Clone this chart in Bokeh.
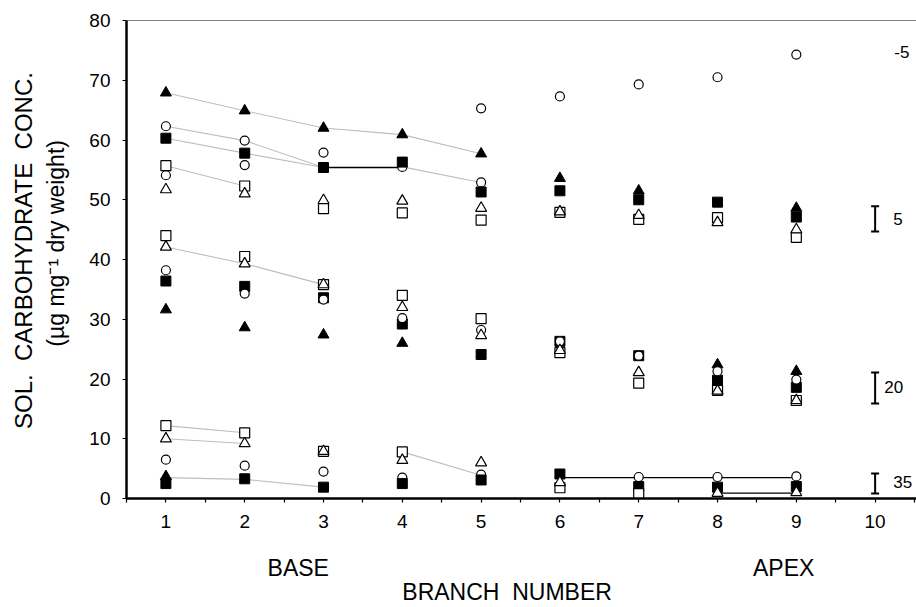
import numpy as np
from bokeh.plotting import figure
from bokeh.models import Range1d, FixedTicker, Span, Label, LinearAxis
from bokeh.embed import file_html
from bokeh.resources import INLINE

# ---------------- data ----------------
branches = [1, 2, 3, 4, 5, 6, 7, 8, 9]
x_ticks = [1, 2, 3, 4, 5, 6, 7, 8, 9, 10]
x_minor = [0.5, 1.5, 2.5, 3.5, 4.5, 5.5, 6.5, 7.5, 8.5, 9.5, 10.5]
y_ticks = [0, 10, 20, 30, 40, 50, 60, 70, 80]

# upper cluster
up_tri_filled = [67.9, 64.9, 62.0, 60.9, 57.7, 53.6, 51.5, None, 48.6]
up_sq_filled = [60.3, 57.8, 55.4, 56.3, 51.3, 51.5, 50.0, 49.6, 47.1]
up_circle_hi = [62.3, 59.9, 57.9, None, 65.3, 67.3, 69.3, 70.5, 74.3]
up_circle_lo = [54.1, 55.8, None, 55.5, 52.9, None, None, None, None]
up_sq_open = [55.7, 52.3, 48.5, 47.8, 46.6, 47.9, 46.7, 47.0, 43.7]
up_tri_open = [51.7, 51.0, 49.9, 49.8, 48.6, 48.0, 47.4, 46.2, 45.0]

# middle cluster
mid_sq_open = [44.0, 40.5, 35.8, 34.0, 30.1, 24.4, 19.3, 18.1, 16.4]
mid_tri_open = [42.1, 39.3, 35.8, 32.0, 27.3, 24.8, 21.1, 18.0, 16.4]
mid_circle = [38.2, 34.3, 33.3, 30.2, 28.2, 26.3, 23.9, 21.3, 19.9]
mid_sq_filled = [36.4, 35.5, 33.6, 29.2, 24.1, 26.3, 23.9, 19.8, 18.6]
mid_tri_filled = [31.6, 28.6, 27.4, 26.0, None, None, None, 22.4, 21.3]

# lower cluster
low_sq_open = [12.2, 11.0, 7.9, 7.8, None, 1.8, 0.8, None, None]
low_tri_open = [10.0, 9.2, 7.9, 6.4, 6.0, 2.7, None, 0.9, 1.0]
low_circle = [6.5, 5.5, 4.5, 3.5, 4.0, None, 3.6, 3.6, 3.7]
low_sq_filled = [2.5, 3.3, 1.9, 2.5, 3.1, 4.1, 2.0, 1.9, 2.0]
low_tri_filled = [3.7, None, None, None, None, None, None, None, None]

# connecting lines (branch list, value list)
grey_lines = [
    ([1, 2, 3, 4, 5], [67.9, 64.9, 62.0, 60.9, 57.7]),
    ([1, 2, 3], [62.3, 59.9, 55.4]),
    ([4, 5], [55.5, 52.9]),
    ([1, 2, 3], [60.3, 57.8, 55.4]),
    ([1, 2], [55.7, 52.3]),
    ([1, 2, 3], [42.1, 39.3, 35.8]),
    ([1, 2], [12.2, 11.0]),
    ([1, 2], [10.0, 9.2]),
    ([1, 2, 3], [3.5, 3.2, 1.9]),
    ([4, 5], [7.8, 3.9]),
]
black_lines = [
    ([3, 4], [55.4, 55.4]),
    ([6, 7, 8, 9], [3.5, 3.5, 3.5, 3.5]),
    ([8, 9], [0.9, 0.9]),
]

# temperature groups with LSD bars
temp_labels = ["-5", "5", "20", "35"]
lsd_low = [None, 44.7, 15.9, 0.85]
lsd_high = [None, 48.9, 21.1, 4.2]
temp_label_y = [74.8, 46.8, 18.6, 2.8]
bar_branch = 10

# axis captions
y_caption_1 = "SOL.\u00a0 CARBOHYDRATE\u00a0 CONC."
y_caption_2 = "(\u00b5g mg\u207b\u00b9 dry weight)"
x_end_labels = ["BASE", "APEX"]
x_caption = "BRANCH\u00a0 NUMBER"


def arr(v):
    return np.array([np.nan if a is None else a for a in v], dtype=float)


FONT = "Liberation Sans"

p = figure(width=916, height=607, x_range=Range1d(0.5, 10.525), y_range=Range1d(0, 80),
           output_backend="svg", toolbar_location=None, title=None,
           min_border_left=126, min_border_right=0, min_border_top=20, min_border_bottom=109)
p.background_fill_color = "white"
p.border_fill_color = "white"
p.outline_line_color = None
p.xgrid.visible = False
p.ygrid.visible = False

p.xaxis.ticker = FixedTicker(ticks=x_ticks, minor_ticks=x_minor)
p.yaxis.ticker = FixedTicker(ticks=y_ticks)
for ax in (p.xaxis[0], p.yaxis[0]):
    ax.axis_line_width = 2.5
    ax.axis_line_color = "black"
    ax.major_tick_line_width = 1.2
    ax.major_tick_line_color = "black"
    ax.major_tick_out = 4
    ax.major_tick_in = 0
    ax.minor_tick_out = 4
    ax.minor_tick_in = 0
    ax.minor_tick_line_width = 1.2
    ax.minor_tick_line_color = "black"
    ax.major_label_text_font = FONT
    ax.major_label_text_font_size = "19px"
    ax.major_label_text_color = "black"
    ax.major_label_standoff = 12
p.yaxis.minor_tick_line_color = None


def caption_axis(ticks, labels, size, standoff, side):
    ax = LinearAxis(ticker=FixedTicker(ticks=ticks),
                    major_label_overrides={t: s for t, s in zip(ticks, labels)},
                    axis_line_color=None, major_tick_line_color=None,
                    minor_tick_line_color=None, major_tick_out=0, major_tick_in=0,
                    minor_tick_out=0, minor_tick_in=0,
                    major_label_text_font=FONT, major_label_text_font_size=size,
                    major_label_text_color="black", major_label_standoff=standoff)
    if side == "left":
        ax.major_label_orientation = "parallel"
    p.add_layout(ax, side)
    return ax


caption_axis([42.7], [y_caption_2], "23px", 17, "left")
caption_axis([41.5], [y_caption_1], "24px", 3, "left")
caption_axis([2.68, 8.84], x_end_labels, "23px", 24, "below")
caption_axis([5.33], [x_caption], "23px", -5, "below")

p.add_layout(Span(location=80, dimension="width", line_color="black", line_width=1.2))

# lines
for bx, by in grey_lines:
    p.line(bx, by, line_color="#bdbdbd", line_width=1.1)
for bx, by in black_lines:
    p.line(bx, by, line_color="black", line_width=1.3)


def filled(vals, marker, size):
    p.scatter(branches, arr(vals), marker=marker, size=size,
              fill_color="black", line_color="black", line_width=1)


def opened(vals, marker, size):
    p.scatter(branches, arr(vals), marker=marker, size=size,
              fill_color="white", line_color="black", line_width=1.2)


# upper
opened(up_circle_lo, "circle", 9)
filled(up_tri_filled, "triangle", 11)
filled(up_sq_filled, "square", 10)
opened(up_circle_hi, "circle", 9)
opened(up_sq_open, "square", 10)
opened(up_tri_open, "triangle", 11)
# middle
filled(mid_tri_filled, "triangle", 11)
filled(mid_sq_filled, "square", 10)
opened(mid_circle, "circle", 9)
opened(mid_sq_open, "square", 10)
opened(mid_tri_open, "triangle", 11)
# lower
filled(low_tri_filled, "triangle", 11)
opened(low_circle, "circle", 9)
filled(low_sq_filled, "square", 10)
opened(low_sq_open, "square", 10)
opened(low_tri_open, "triangle", 11)

# LSD bars
bl = arr(lsd_low)
bh = arr(lsd_high)
bx = [bar_branch] * len(temp_labels)
p.segment(x0=bx, y0=bl, x1=bx, y1=bh, line_color="black", line_width=2)
p.scatter(bx, bl, marker="dash", size=8, line_color="black", line_width=2)
p.scatter(bx, bh, marker="dash", size=8, line_color="black", line_width=2)

label_x = [10.243, 10.23, 10.116, 10.23]
for t, lx, ly in zip(temp_labels, label_x, temp_label_y):
    p.add_layout(Label(x=lx, y=ly, text=t, text_font=FONT, text_font_size="17px",
                       text_align="left", text_baseline="middle", text_color="black"))

open("out.html", "w").write(file_html(p, INLINE))
